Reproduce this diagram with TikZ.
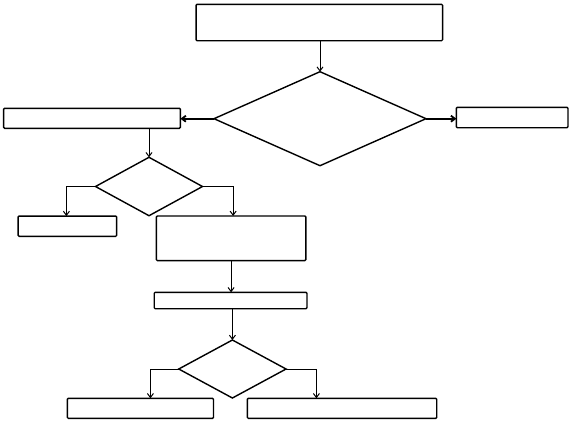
\documentclass[tikz,border=0pt]{standalone}
\usetikzlibrary{shapes.geometric,arrows.meta}
\begin{document}
\begin{tikzpicture}[x=1pt,y=-1pt,
  box/.style={draw,line width=1.4pt,rounded corners=1pt,inner sep=0pt,outer sep=0pt},
  dec/.style={draw,diamond,line width=1.4pt,inner sep=0pt,outer sep=0pt},
  arr/.style={line width=1pt,-{Straight Barb[length=4pt,width=6pt]}},
  arrthick/.style={line width=1.8pt,-{Straight Barb[length=4pt,width=6pt]}}]
\useasboundingbox (0,0) rectangle (570,421);
\node[box,minimum width=246.5pt,minimum height=36.4pt] (A) at (319.3,22.5) {};
\node[dec,minimum width=212pt,minimum height=94pt] (D1) at (320,118.7) {};
\node[box,minimum width=176.8pt,minimum height=20pt] (B) at (92,118.3) {};
\node[box,minimum width=111.6pt,minimum height=20.4pt] (C) at (512.2,117.5) {};
\node[dec,minimum width=107pt,minimum height=58.4pt] (D2) at (149,186.5) {};
\node[box,minimum width=98.5pt,minimum height=20.3pt] (D) at (67.4,226.2) {};
\node[box,minimum width=149.4pt,minimum height=44.7pt] (E) at (231.1,238.3) {};
\node[box,minimum width=152.8pt,minimum height=16.4pt] (F) at (230.6,300.5) {};
\node[dec,minimum width=107.3pt,minimum height=58pt] (D3) at (232.4,369) {};
\node[box,minimum width=146.2pt,minimum height=20pt] (G) at (140.4,408.3) {};
\node[box,minimum width=189.4pt,minimum height=20pt] (H) at (342,408.3) {};

\draw[arr] (D1.north |- A.south) -- (D1.north);
\draw[arrthick] (D1.west) -- (D1.west -| B.east);
\draw[arrthick] (D1.east) -- (D1.east -| C.west);
\draw[arr] (D2.north |- B.south) -- (D2.north);
\draw[arr] (D2.west) -| ([xshift=-1pt]D.north);
\draw[arr] (D2.east) -| ([xshift=2pt]E.north);
\draw[arr] (E.south) -- (E.south |- F.north);
\draw[arr] (D3.north |- F.south) -- (D3.north);
\draw[arr] (D3.west) -| ([xshift=10pt]G.north);
\draw[arr] (D3.east) -| ([xshift=-25.6pt]H.north);
\end{tikzpicture}
\end{document}
